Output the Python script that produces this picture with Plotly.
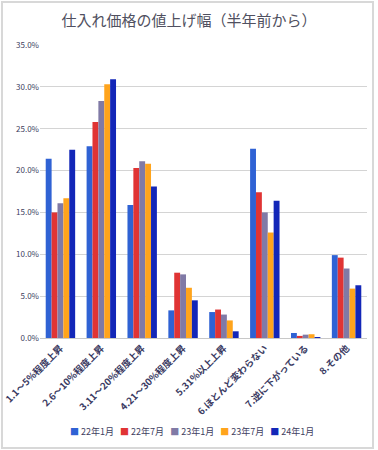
import plotly.graph_objects as go

categories = ["1.1～5%程度上昇", "2.6～10%程度上昇", "3.11～20%程度上昇", "4.21～30%程度上昇",
              "5.31%以上上昇", "6.ほとんど変わらない", "7.逆に下がっている", "8.その他"]
series_names = ["22年1月", "22年7月", "23年1月", "23年7月", "24年1月"]
s_22_1 = [21.4, 22.9, 15.9, 3.3, 3.1, 22.6, 0.6, 9.9]
s_22_7 = [15.0, 25.8, 20.3, 7.8, 3.4, 17.4, 0.25, 9.6]
s_23_1 = [16.1, 28.3, 21.1, 7.6, 2.8, 15.0, 0.4, 8.3]
s_23_7 = [16.7, 30.3, 20.8, 6.0, 2.1, 12.6, 0.45, 5.9]
s_24_1 = [22.5, 30.9, 18.1, 4.5, 0.8, 16.4, 0.1, 6.3]
colors = ["#2f62d4", "#e03434", "#807aa6", "#ffa41c", "#1327b8"]

all_series = [s_22_1, s_22_7, s_23_1, s_23_7, s_24_1]

fig = go.Figure()
for name, vals, c in zip(series_names, all_series, colors):
    fig.add_trace(go.Bar(x=categories, y=[v / 100 for v in vals], name=name,
                         marker=dict(color=c, line=dict(width=0)), showlegend=False))

legend_text = "&nbsp;&nbsp;&nbsp;".join(
    f"<span style='color:{c}'>■</span>&nbsp;{n}" for n, c in zip(series_names, colors))

fig.update_layout(
    width=378, height=450,
    margin=dict(l=40, r=11, t=45, b=112),
    paper_bgcolor="white", plot_bgcolor="white",
    font=dict(family="Noto Sans CJK JP", size=8, color="#404060"),
    title=dict(text="仕入れ価格の値上げ幅（半年前から）", x=0.5, xanchor="center",
               y=0.955, yanchor="middle",
               font=dict(size=15, color="#505060", family="Noto Sans CJK JP")),
    barmode="group", bargap=0.28, bargroupgap=0,
    showlegend=False,
    xaxis=dict(tickangle=-45, showgrid=False, showline=True, linecolor="#c8c8c8",
               tickfont=dict(size=9.5, color="#3a3a62", weight=600), ticks="", automargin=False),
    yaxis=dict(range=[0, 0.35], dtick=0.05, tickformat=".1%", showgrid=True,
               gridcolor="#d4d4d4", gridwidth=1, zeroline=False, showline=False,
               tickfont=dict(size=8, color="#404060"), ticks="", automargin=False),
    annotations=[dict(text=legend_text, xref="paper", yref="paper", x=(192 - 40) / 327,
                      y=-94 / 293, xanchor="center", yanchor="middle", showarrow=False,
                      font=dict(size=9, color="#404060"))],
    shapes=[dict(type="rect", xref="paper", yref="paper",
                 x0=-38/327, x1=1 + 6/327, y0=-110/293, y1=1 + 43/293,
                 line=dict(color="#d8d8d8", width=2), fillcolor="rgba(0,0,0,0)", layer="below")],
)

fig.write_html("out.html", config={"displayModeBar": False},
               post_script="document.body.style.margin='0';document.body.style.overflow='hidden';")
